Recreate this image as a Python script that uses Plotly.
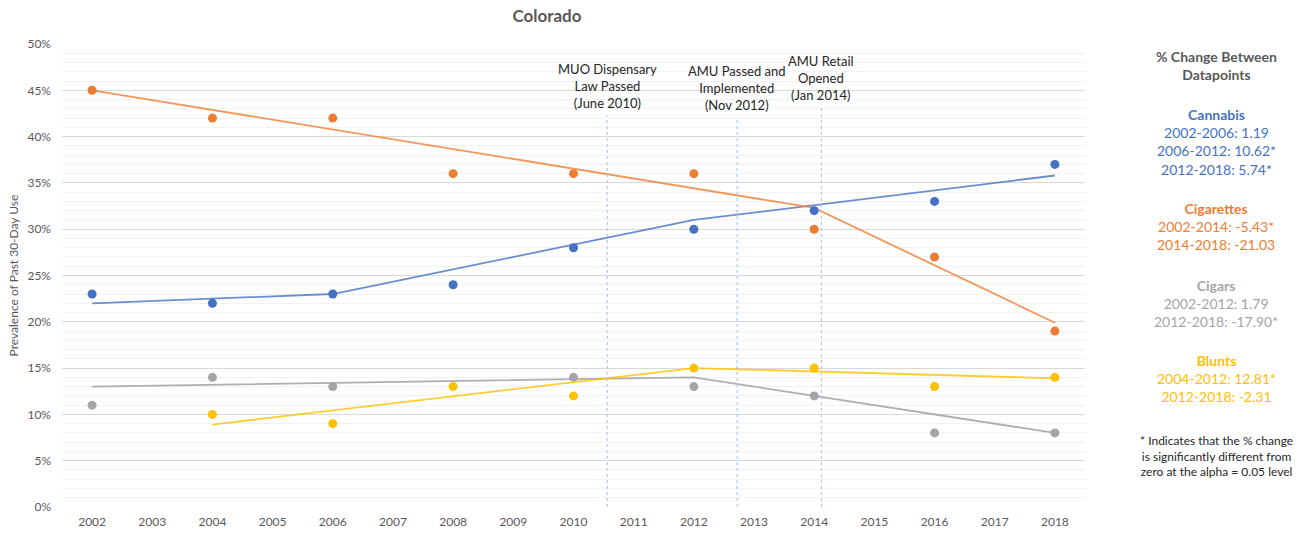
import plotly.graph_objects as go

# survey years and observed prevalence (%)
years = [2002, 2004, 2006, 2008, 2010, 2012, 2014, 2016, 2018]
cannabis = [23, 22, 23, 24, 28, 30, 32, 33, 37]
cigarettes = [45, 42, 42, 36, 36, 36, 30, 27, 19]
cigars = [11, 14, 13, None, 14, 13, 12, 8, 8]
blunts = [None, 10, 9, 13, 12, 15, 15, 13, 14]

# joinpoint fitted lines (years, %)
cannabis_fit_x = [2002, 2006, 2012, 2018]
cannabis_fit_y = [22.0, 23.0, 31.0, 35.8]
cigarettes_fit_x = [2002, 2014, 2018]
cigarettes_fit_y = [45.0, 32.3, 19.9]
cigars_fit_x = [2002, 2012, 2018]
cigars_fit_y = [13.0, 14.0, 8.0]
blunts_fit_x = [2004, 2012, 2018]
blunts_fit_y = [8.9, 15.0, 13.9]

# policy events
event_x = [2010.56, 2012.72, 2014.12]
event_top = [42.3, 42.1, 43.1]
event_labels = ["MUO Dispensary<br>Law Passed<br>(June 2010)",
                "AMU Passed and<br>Implemented<br>(Nov 2012)",
                "AMU Retail<br>Opened<br>(Jan 2014)"]
event_label_y = [48.4, 48.2, 49.2]

tick_years = list(range(2002, 2019))

BLUE = "#4472C4"
ORANGE = "#ED7D31"
GRAY = "#A5A5A5"
YELLOW = "#FFC000"
TEXT = "#595959"
FONT = "Lato"

fig = go.Figure()

series = [
    ("Cannabis", cannabis, cannabis_fit_x, cannabis_fit_y, BLUE, "rgba(68,114,196,0.8)"),
    ("Cigarettes", cigarettes, cigarettes_fit_x, cigarettes_fit_y, ORANGE, "rgba(237,125,49,0.8)"),
    ("Cigars", cigars, cigars_fit_x, cigars_fit_y, GRAY, "rgba(165,165,165,0.9)"),
    ("Blunts", blunts, blunts_fit_x, blunts_fit_y, YELLOW, "rgba(255,192,0,0.8)"),
]

for name, vals, fx, fy, col, lcol in series:
    fig.add_trace(go.Scatter(x=fx, y=fy, mode="lines", name=name + " fit",
                             line=dict(color=lcol, width=1.8), showlegend=False))
for name, vals, fx, fy, col, lcol in series:
    fig.add_trace(go.Scatter(x=years, y=vals, mode="markers", name=name,
                             marker=dict(color=col, size=9), showlegend=False))

# dashed event lines
for ex, top in zip(event_x, event_top):
    fig.add_shape(type="line", x0=ex, x1=ex, y0=0, y1=top, xref="x", yref="y",
                  line=dict(color="#B4C7E7", width=1.2, dash="dot"), layer="above")
for ex, lab, ly in zip(event_x, event_labels, event_label_y):
    fig.add_annotation(x=ex, y=ly, xref="x", yref="y", text=lab, showarrow=False,
                       yanchor="top", align="center",
                       font=dict(family=FONT, size=13, color="#262626"))

# right-hand panel text (pixel positions, converted below)
panel = [
    ("<b>% Change Between<br>Datapoints</b>", TEXT, 14, 46),
    ("<b>Cannabis</b><br>2002-2006: 1.19<br>2006-2012: 10.62*<br>2012-2018: 5.74*", BLUE, 14, 104),
    ("<b>Cigarettes</b><br>2002-2014: -5.43*<br>2014-2018: -21.03", ORANGE, 14, 198),
    ("<b>Cigars</b><br>2002-2012: 1.79<br>2012-2018: -17.90*", GRAY, 14, 275),
    ("<b>Blunts</b><br>2004-2012: 12.81*<br>2012-2018: -2.31", YELLOW, 14, 350),
    ("* Indicates that the % change<br>is significantly different from<br>zero at the alpha = 0.05 level", "#262626", 12, 431),
]
for txt, col, sz, ypix in panel:
    fig.add_annotation(x=(1216 - 62) / 1023, y=(507 - ypix) / 463, xref="paper", yref="paper",
                       text=txt, showarrow=False, yanchor="top", xanchor="center", align="center",
                       font=dict(family=FONT, size=sz, color=col))

fig.update_layout(
    width=1308, height=533,
    margin=dict(l=62, r=223, t=44, b=26),
    paper_bgcolor="white", plot_bgcolor="white",
    title=dict(text="<b>Colorado</b>", x=547 / 1308, xanchor="center", y=0.97, yanchor="middle",
               font=dict(family=FONT, size=17, color=TEXT)),
    font=dict(family=FONT, color=TEXT, size=12),
)
fig.update_xaxes(range=[2001.5, 2018.5], tickvals=tick_years, ticktext=[str(y) for y in tick_years],
                 showgrid=False, zeroline=False, showline=False, ticks="", ticklabelstandoff=6,
                 automargin=False, tickfont=dict(family=FONT, size=12, color=TEXT))
fig.update_yaxes(range=[0, 50], dtick=5, ticksuffix="%", showgrid=True, gridcolor="#D9D9D9",
                 gridwidth=1, zeroline=False, showline=False, ticklabelstandoff=10,
                 automargin=False,
                 minor=dict(dtick=1, showgrid=True, gridcolor="#F2F2F2", gridwidth=1),
                 tickfont=dict(family=FONT, size=12, color=TEXT),
                 title=dict(text="Prevalence of Past 30-Day Use", standoff=6,
                            font=dict(family=FONT, size=12, color=TEXT)))

fig.write_html("out.html", config={"displayModeBar": False},
               post_script="document.body.style.margin='0px';")
